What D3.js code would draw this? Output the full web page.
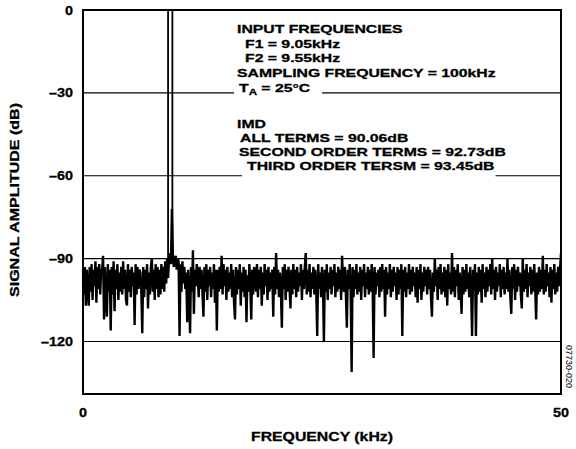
<!DOCTYPE html>
<html>
<head>
<meta charset="utf-8">
<script src="https://cdn.jsdelivr.net/npm/d3@7"></script>
<style>
  html, body { margin: 0; padding: 0; background: #fff; }
  svg text { font-family: "Liberation Sans", Arial, sans-serif; font-weight: bold; fill: #000; }
  svg text.heavy { stroke: #000; stroke-width: 0.3px; }
</style>
</head>
<body>
<svg id="chart" width="576" height="449"></svg>
<script>
// FFT of the two-tone IMD test

const binStep = 0.1; // kHz per FFT bin
const noiseDb = [
  -95,-103,-93,-107,-94,-101,-107,-93,-102,-92,-105,-94,-100,-91,-106,-93,-101,-92,-103,-94,
  -94,-89,-112,-93,-104,-111,-92,-102,-94,-116,-93,-103,-91,-109,-94,-101,-92,-105,-95,-102,
  -93,-103,-91,-101,-94,-105,-107,-92,-102,-94,-104,-93,-100,-95,-114,-92,-103,-93,-101,-94,
  -95,-102,-117,-93,-104,-94,-101,-92,-108,-95,-103,-93,-90,-102,-94,-105,-92,-101,-93,-104,
  -94,-103,-92,-101,-93,-102,-91,-99,-90,-97,-90,-88,-92,-72,-89,-93,-90,-89,-94,-90,
  -91,-118,-92,-102,-91,-99,-93,-101,-95,-113,-94,-103,-117,-93,-102,-87,-110,-94,-100,-92,
  -95,-104,-93,-101,-94,-103,-111,-93,-102,-92,-105,-94,-100,-93,-104,-95,-101,-92,-106,-94,
  -116,-94,-102,-93,-101,-89,-103,-92,-100,-94,-105,-93,-102,-95,-101,-92,-104,-94,-106,-112,
  -93,-103,-94,-101,-92,-107,-95,-102,-93,-104,-94,-113,-96,-102,-92,-100,-112,-94,-103,-93,
  -95,-102,-92,-104,-94,-101,-93,-107,-95,-103,-92,-100,-94,-105,-93,-102,-95,-101,-94,-111,
  -93,-103,-88,-101,-94,-104,-95,-102,-115,-93,-101,-92,-105,-94,-102,-93,-100,-108,-94,-103,
  -92,-101,-94,-104,-93,-102,-95,-100,-92,-105,-94,-101,-93,-88,-103,-94,-102,-92,-104,-95,
  -101,-93,-103,-94,-102,-118,-92,-101,-95,-104,-93,-100,-120,-94,-102,-92,-105,-95,-101,-93,
  -103,-94,-100,-92,-104,-95,-102,-93,-101,-94,-105,-89,-99,-102,-93,-103,-115,-94,-101,-92,
  -102,-131,-93,-104,-94,-101,-92,-103,-95,-102,-93,-105,-94,-100,-92,-104,-95,-101,-93,-103,
  -94,-102,-92,-101,-126,-93,-103,-95,-100,-94,-104,-93,-102,-92,-101,-94,-111,-93,-103,-95,
  -101,-92,-104,-94,-102,-93,-100,-95,-105,-93,-103,-94,-101,-92,-118,-94,-102,-93,-104,-95,
  -101,-92,-103,-94,-102,-93,-100,-95,-104,-93,-106,-94,-101,-92,-105,-95,-102,-93,-100,-94,
  -103,-93,-101,-94,-104,-111,-95,-102,-90,-100,-94,-105,-93,-101,-92,-103,-95,-102,-93,-104,
  -94,-107,-92,-101,-95,-103,-88,-102,-93,-104,-94,-100,-92,-105,-95,-101,-110,-93,-103,-94,
  -102,-92,-101,-95,-104,-93,-102,-118,-94,-101,-92,-118,-95,-103,-93,-102,-94,-106,-92,-101,
  -95,-104,-93,-102,-94,-100,-92,-103,-90,-101,-94,-105,-93,-102,-95,-100,-92,-104,-94,-101,
  -93,-103,-95,-101,-90,-102,-94,-104,-110,-93,-101,-92,-105,-94,-102,-93,-100,-95,-103,-108,
  -90,-102,-94,-101,-92,-104,-95,-100,-93,-103,-94,-102,-92,-101,-112,-95,-103,-93,-102,-94,
  -101,-89,-103,-94,-102,-92,-100,-95,-104,-93,-106,-94,-101,-92,-103,-95,-102,-93,-100,-94,
  -88
];

// the two input tones (positions as drawn)
const toneFreqs = [8.9, 9.35];
const toneTopDb = [0, 0];
const toneFootDb = [-90, -88];

const yTicks = [0, -30, -60, -90, -120];
const yGrid = [-30, -60, -90, -120];
const xTicks = [0, 50];

const noteText = [
  "INPUT FREQUENCIES",
  "F1 = 9.05kHz",
  "F2 = 9.55kHz",
  "SAMPLING FREQUENCY = 100kHz",
  "T_A = 25°C",
  "IMD",
  "ALL TERMS = 90.06dB",
  "SECOND ORDER TERMS = 92.73dB",
  "THIRD ORDER TERSM = 93.45dB"
];

// layout for the note block
const noteBase = [33, 47.5, 61.5, 76.5, 92, 128, 141.5, 155.5, 170];
const noteIndent = [0, 8, 8, 0, 2, 0, 3, 2, 10];
const noteKnockout = [false, false, false, false, true, false, false, false, true];
const noteX = 237, noteStretch = 1.36;

const svg = d3.select('#chart');
const plotL = 83, plotR = 561, plotT = 10, plotB = 394;

const x = d3.scaleLinear().domain([0, 50]).range([plotL, plotR]);
const y = d3.scaleLinear().domain([0, -139]).range([plotT, plotB]);

// stretch a text horizontally to mimic the wide bold face of the original
function stretch(sel, k) {
  const w = sel.node().getComputedTextLength();
  sel.attr('textLength', w * k).attr('lengthAdjust', 'spacingAndGlyphs');
}

svg.append('clipPath').attr('id', 'plot-clip')
  .append('rect')
  .attr('x', plotL).attr('y', plotT)
  .attr('width', plotR - plotL).attr('height', plotB - plotT);

// gridlines
svg.append('g')
  .selectAll('line')
  .data(yGrid)
  .enter()
  .append('line')
  .attr('x1', plotL).attr('x2', plotR)
  .attr('y1', d => y(d)).attr('y2', d => y(d))
  .attr('stroke', '#000')
  .attr('stroke-width', 1.2);

// noise floor trace
const trace = noiseDb.map((v, i) => ({ f: i * binStep, v }));
const line = d3.line().x(d => x(d.f)).y(d => y(d.v));

const plot = svg.append('g').attr('clip-path', 'url(#plot-clip)');

plot.append('path')
  .datum(trace)
  .attr('d', line)
  .attr('fill', 'none')
  .attr('stroke', '#000')
  .attr('stroke-width', 2.4)
  .attr('stroke-linejoin', 'bevel');

// tones
plot.selectAll('.tone')
  .data(toneFreqs)
  .enter()
  .append('line')
  .attr('class', 'tone')
  .attr('x1', d => x(d)).attr('x2', d => x(d))
  .attr('y1', (d, i) => y(toneTopDb[i]))
  .attr('y2', (d, i) => y(toneFootDb[i]))
  .attr('stroke', '#000')
  .attr('stroke-width', 1.8);

// frame
svg.append('rect')
  .attr('x', plotL).attr('y', plotT)
  .attr('width', plotR - plotL).attr('height', plotB - plotT)
  .attr('fill', 'none')
  .attr('stroke', '#000')
  .attr('stroke-width', 2);

// y tick labels
svg.append('g')
  .selectAll('text')
  .data(yTicks)
  .enter()
  .append('text')
  .attr('class', 'heavy')
  .attr('x', 73)
  .attr('y', d => y(d))
  .attr('dy', '0.36em')
  .attr('text-anchor', 'end')
  .attr('font-size', '12.5px')
  .text(d => d === 0 ? '0' : '\u2013' + Math.abs(d))
  .each(function () { stretch(d3.select(this), 1.15); });

// x tick labels
svg.append('g')
  .selectAll('text')
  .data(xTicks)
  .enter()
  .append('text')
  .attr('class', 'heavy')
  .attr('x', d => x(d))
  .attr('y', 417)
  .attr('text-anchor', 'middle')
  .attr('font-size', '12.5px')
  .text(d => d)
  .each(function () { stretch(d3.select(this), 1.15); });

// axis titles
svg.append('text')
  .attr('class', 'heavy')
  .attr('x', (plotL + plotR) / 2)
  .attr('y', 441)
  .attr('text-anchor', 'middle')
  .attr('font-size', '13px')
  .text('FREQUENCY (kHz)')
  .attr('textLength', 142)
  .attr('lengthAdjust', 'spacingAndGlyphs');

svg.append('text')
  .attr('class', 'heavy')
  .attr('transform', `translate(19,200) rotate(-90)`)
  .attr('text-anchor', 'middle')
  .attr('font-size', '13px')
  .text('SIGNAL AMPLITUDE (dB)')
  .attr('textLength', 194)
  .attr('lengthAdjust', 'spacingAndGlyphs');

// annotation block
const notes = svg.append('g').attr('font-size', '11.6px');

noteText.forEach((t, i) => {
  const bg = notes.append('rect').attr('fill', '#fff');
  const txt = notes.append('text')
    .attr('class', 'heavy')
    .attr('x', noteX + noteIndent[i])
    .attr('y', noteBase[i]);
  const parts = t.split('_');
  if (parts.length > 1) {
    // subscript, e.g. T_A
    txt.append('tspan').text(parts[0]);
    const sub = parts[1].split(' ')[0];
    txt.append('tspan').attr('font-size', '8.5px').attr('dy', 3).text(sub);
    txt.append('tspan').attr('dy', -3).text(parts[1].slice(sub.length));
  } else {
    txt.text(t);
  }
  stretch(txt, noteStretch);
  if (noteKnockout[i]) {
    const bb = txt.node().getBBox();
    bg.attr('x', bb.x - 5).attr('y', bb.y)
      .attr('width', bb.width + (parts.length > 1 ? 16 : 6)).attr('height', bb.height + 5);
  } else {
    bg.remove();
  }
});

// figure id
svg.append('text')
  .attr('transform', 'translate(566,345) rotate(90)')
  .attr('font-size', '9px')
  .style('font-weight', 'normal')
  .attr('fill', '#333')
  .text('07730-020');
</script>
</body>
</html>
